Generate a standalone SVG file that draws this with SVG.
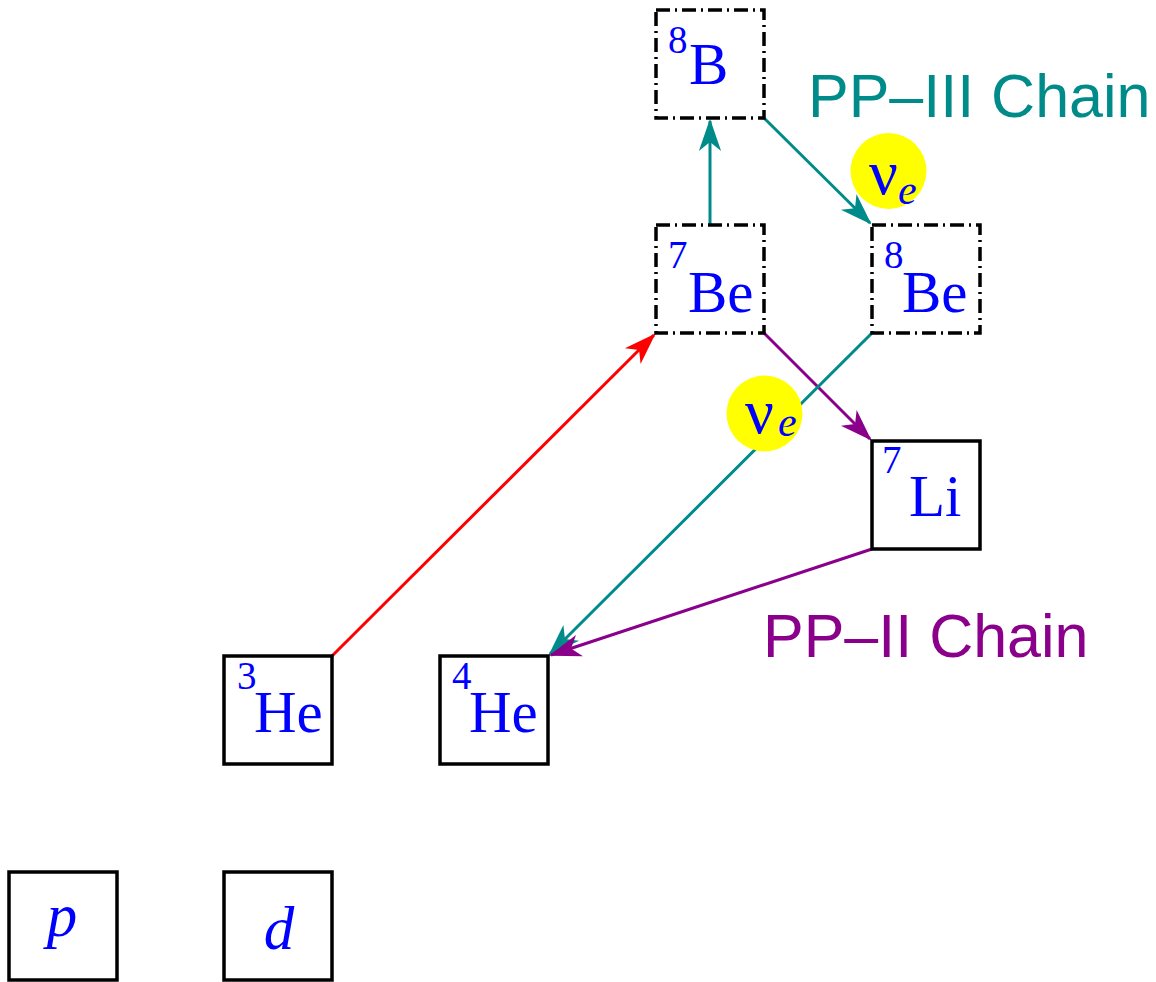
<svg xmlns="http://www.w3.org/2000/svg" width="1156" height="982" viewBox="0 0 1156 982">
  <style>
    .box { fill: none; stroke: #000; stroke-width: 3.5; }
    .unstable { stroke-dasharray: 14 5 2 5; }
    .iso { font-family: "Liberation Serif", "Times New Roman", serif; fill: #0000ff; }
    .mass { font-size: 39px; }
    .elem { font-size: 59px; }
    .particle { font-size: 61px; font-style: italic; text-anchor: middle; }
    .nu { font-size: 64px; }
    .nusub { font-size: 42px; font-style: italic; }
    .chain { font-family: "Liberation Sans", Arial, sans-serif; font-size: 61px; }
    .conn { fill: none; stroke-width: 3; }
    .teal { stroke: #008b8b; }
    .purple { stroke: #8b008b; }
    .red { stroke: #ff0000; }
    .nucirc { fill: #ffff00; }
  </style>
  <defs>
    <marker id="arrTeal" markerUnits="userSpaceOnUse" orient="auto" refX="0" refY="0" markerWidth="40" markerHeight="40" viewBox="-32 -16 36 32" overflow="visible">
      <path d="M2,0 L-27,-10 L-19,0 L-27,10 Z" fill="#008b8b"/>
    </marker>
    <marker id="arrPurple" markerUnits="userSpaceOnUse" orient="auto" refX="0" refY="0" markerWidth="40" markerHeight="40" viewBox="-32 -16 36 32" overflow="visible">
      <path d="M2,0 L-27,-10 L-19,0 L-27,10 Z" fill="#8b008b"/>
    </marker>
    <marker id="arrRed" markerUnits="userSpaceOnUse" orient="auto" refX="0" refY="0" markerWidth="40" markerHeight="40" viewBox="-32 -16 36 32" overflow="visible">
      <path d="M2,0 L-27,-10 L-19,0 L-27,10 Z" fill="#ff0000"/>
    </marker>
  </defs>

  <!-- reaction connectors -->
  <g id="connectors">
    <line class="conn red" x1="332" y1="656" x2="654" y2="335" marker-end="url(#arrRed)"/>
    <line class="conn teal" x1="710" y1="225" x2="710" y2="121" marker-end="url(#arrTeal)"/>
    <line class="conn teal" x1="764" y1="118" x2="870" y2="223" marker-end="url(#arrTeal)"/>
    <line class="conn purple" x1="764" y1="333" x2="870" y2="439" marker-end="url(#arrPurple)"/>
    <line class="conn teal" x1="872" y1="333" x2="550" y2="654" marker-end="url(#arrTeal)"/>
    <line class="conn purple" x1="872" y1="549" x2="551" y2="655" marker-end="url(#arrPurple)"/>
  </g>

  <!-- neutrino emissions -->
  <g id="nu1">
    <circle class="nucirc" cx="888.5" cy="171" r="38"/>
    <text class="iso nu" x="869" y="194">ν</text>
    <text class="iso nusub" x="898" y="204">e</text>
  </g>
  <g id="nu2">
    <circle class="nucirc" cx="764.5" cy="413.5" r="38"/>
    <text class="iso nu" x="745" y="433">ν</text>
    <text class="iso nusub" x="778" y="436">e</text>
  </g>

  <!-- nuclei -->
  <g id="B8">
    <rect class="box unstable" x="656" y="10" width="108" height="108"/>
    <text class="iso mass" x="668" y="53">8</text>
    <text class="iso elem" x="689" y="84">B</text>
  </g>
  <g id="Be7">
    <rect class="box unstable" x="656" y="225" width="108" height="108"/>
    <text class="iso mass" x="668" y="268">7</text>
    <text class="iso elem" x="688" y="312">Be</text>
  </g>
  <g id="Be8">
    <rect class="box unstable" x="872" y="225" width="108" height="108"/>
    <text class="iso mass" x="884" y="268">8</text>
    <text class="iso elem" x="902" y="312">Be</text>
  </g>
  <g id="Li7">
    <rect class="box" x="872" y="441" width="108" height="108"/>
    <text class="iso mass" x="882" y="473">7</text>
    <text class="iso elem" x="909" y="516">Li</text>
  </g>
  <g id="He3">
    <rect class="box" x="224" y="656" width="108" height="108"/>
    <text class="iso mass" x="237" y="689">3</text>
    <text class="iso elem" x="254" y="732">He</text>
  </g>
  <g id="He4">
    <rect class="box" x="440" y="656" width="108" height="108"/>
    <text class="iso mass" x="452" y="689">4</text>
    <text class="iso elem" x="469" y="732">He</text>
  </g>
  <g id="proton">
    <rect class="box" x="9" y="872" width="108" height="108"/>
    <text class="iso particle" x="62" y="936">p</text>
  </g>
  <g id="deuteron">
    <rect class="box" x="224" y="872" width="108" height="108"/>
    <text class="iso particle" x="279" y="949">d</text>
  </g>

  <!-- chain labels -->
  <g id="labels">
    <text class="chain" x="808" y="117" fill="#008b8b">PP–III Chain</text>
    <text class="chain" x="763" y="657" fill="#8b008b">PP–II Chain</text>
  </g>
</svg>
